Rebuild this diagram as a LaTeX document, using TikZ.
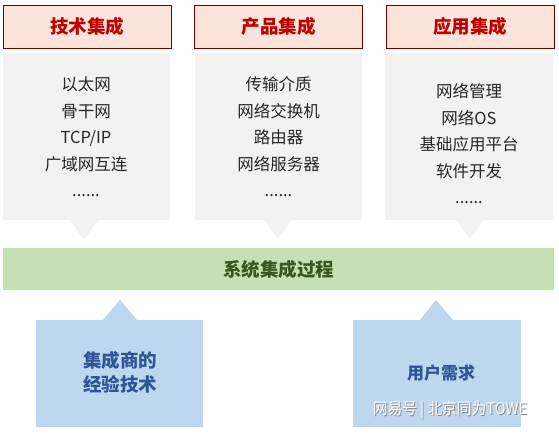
\documentclass[tikz,border=0pt]{standalone}
\usepackage{fontspec}
\setmainfont{Noto Sans CJK SC}
\begin{document}
\begin{tikzpicture}[x=1pt,y=-1pt,
  hdr/.style={draw=red!45!black, line width=0.8pt, fill=hdrfill, minimum width=168pt, minimum height=43pt, inner sep=0pt, font=\fontsize{18.5}{20}\selectfont\bfseries, text=hdrtext},
  graybox/.style={fill=grayfill, draw=none},
  bluebox/.style={fill=bluefill, draw=none},
  listtxt/.style={font=\fontsize{16.5}{26.5}\selectfont, text=black!85, align=center, inner sep=0pt},
  bluetxt/.style={font=\fontsize{18.5}{24}\selectfont\bfseries, text=bluetext, align=center, inner sep=0pt},
  wmtxt/.style={font=\fontsize{16}{20}\selectfont, inner sep=0pt, xscale=0.92}]
\definecolor{hdrfill}{HTML}{FCE4DA}
\definecolor{hdrtext}{HTML}{C00000}
\definecolor{grayfill}{HTML}{F2F2F2}
\definecolor{greenfill}{HTML}{C5E0B4}
\definecolor{greentext}{HTML}{385723}
\definecolor{bluefill}{HTML}{BDD7EE}
\definecolor{bluetext}{HTML}{2F5597}
\useasboundingbox (0,0) rectangle (559,434);
\fill[white] (0,0) rectangle (559,434);
% gray boxes with down pointers
\fill[graybox] (3,53) rectangle (170,220);
\fill[graybox] (70,220) -- (84,240) -- (98,220) -- cycle;
\fill[graybox] (195,53) rectangle (362,220);
\fill[graybox] (264,220) -- (278,239) -- (292,220) -- cycle;
\fill[graybox] (385,53) rectangle (553,220);
\fill[graybox] (456,220) -- (470,239) -- (484,220) -- cycle;
% headers
\node[hdr] (h1) at (87,26.5) {技术集成};
\node[hdr] (h2) at (278.5,26.5) {产品集成};
\node[hdr] (h3) at (470,26.5) {应用集成};
% lists
\node[listtxt] (l1) at (86,137) {以太网\\骨干网\\TCP/IP\\广域网互连\\......};
\node[listtxt] (l2) at (278.5,137) {传输介质\\网络交换机\\路由器\\网络服务器\\......};
\node[listtxt] (l3) at (469,144) {网络管理\\网络OS\\基础应用平台\\软件开发\\......};
% green bar
\fill[greenfill] (3,248) rectangle (554,290);
\node[font=\fontsize{18.5}{20}\selectfont\bfseries, text=greentext, inner sep=0pt] (bar) at (278.5,269) {系统集成过程};
% blue boxes with up pointers
\fill[bluebox] (36,320) rectangle (203,427);
\fill[bluebox] (103,320) -- (120,300) -- (137,320) -- cycle;
\fill[bluebox] (353,320) rectangle (521,427);
\fill[bluebox] (420,320) -- (436,300) -- (453,320) -- cycle;
\node[bluetxt] (b1) at (120,372) {集成商的\\经验技术};
\node[bluetxt, font=\fontsize{17}{22}\selectfont\bfseries] (b2) at (441,373) {用户需求};
% watermark
\node[wmtxt, text=black!45] (wms) at (451,411) {网易号 \textbar\ 北京同为TOWE};
\node[wmtxt, text=white] (wm) at (450,410) {网易号 \textbar\ 北京同为TOWE};
\end{tikzpicture}
\end{document}
